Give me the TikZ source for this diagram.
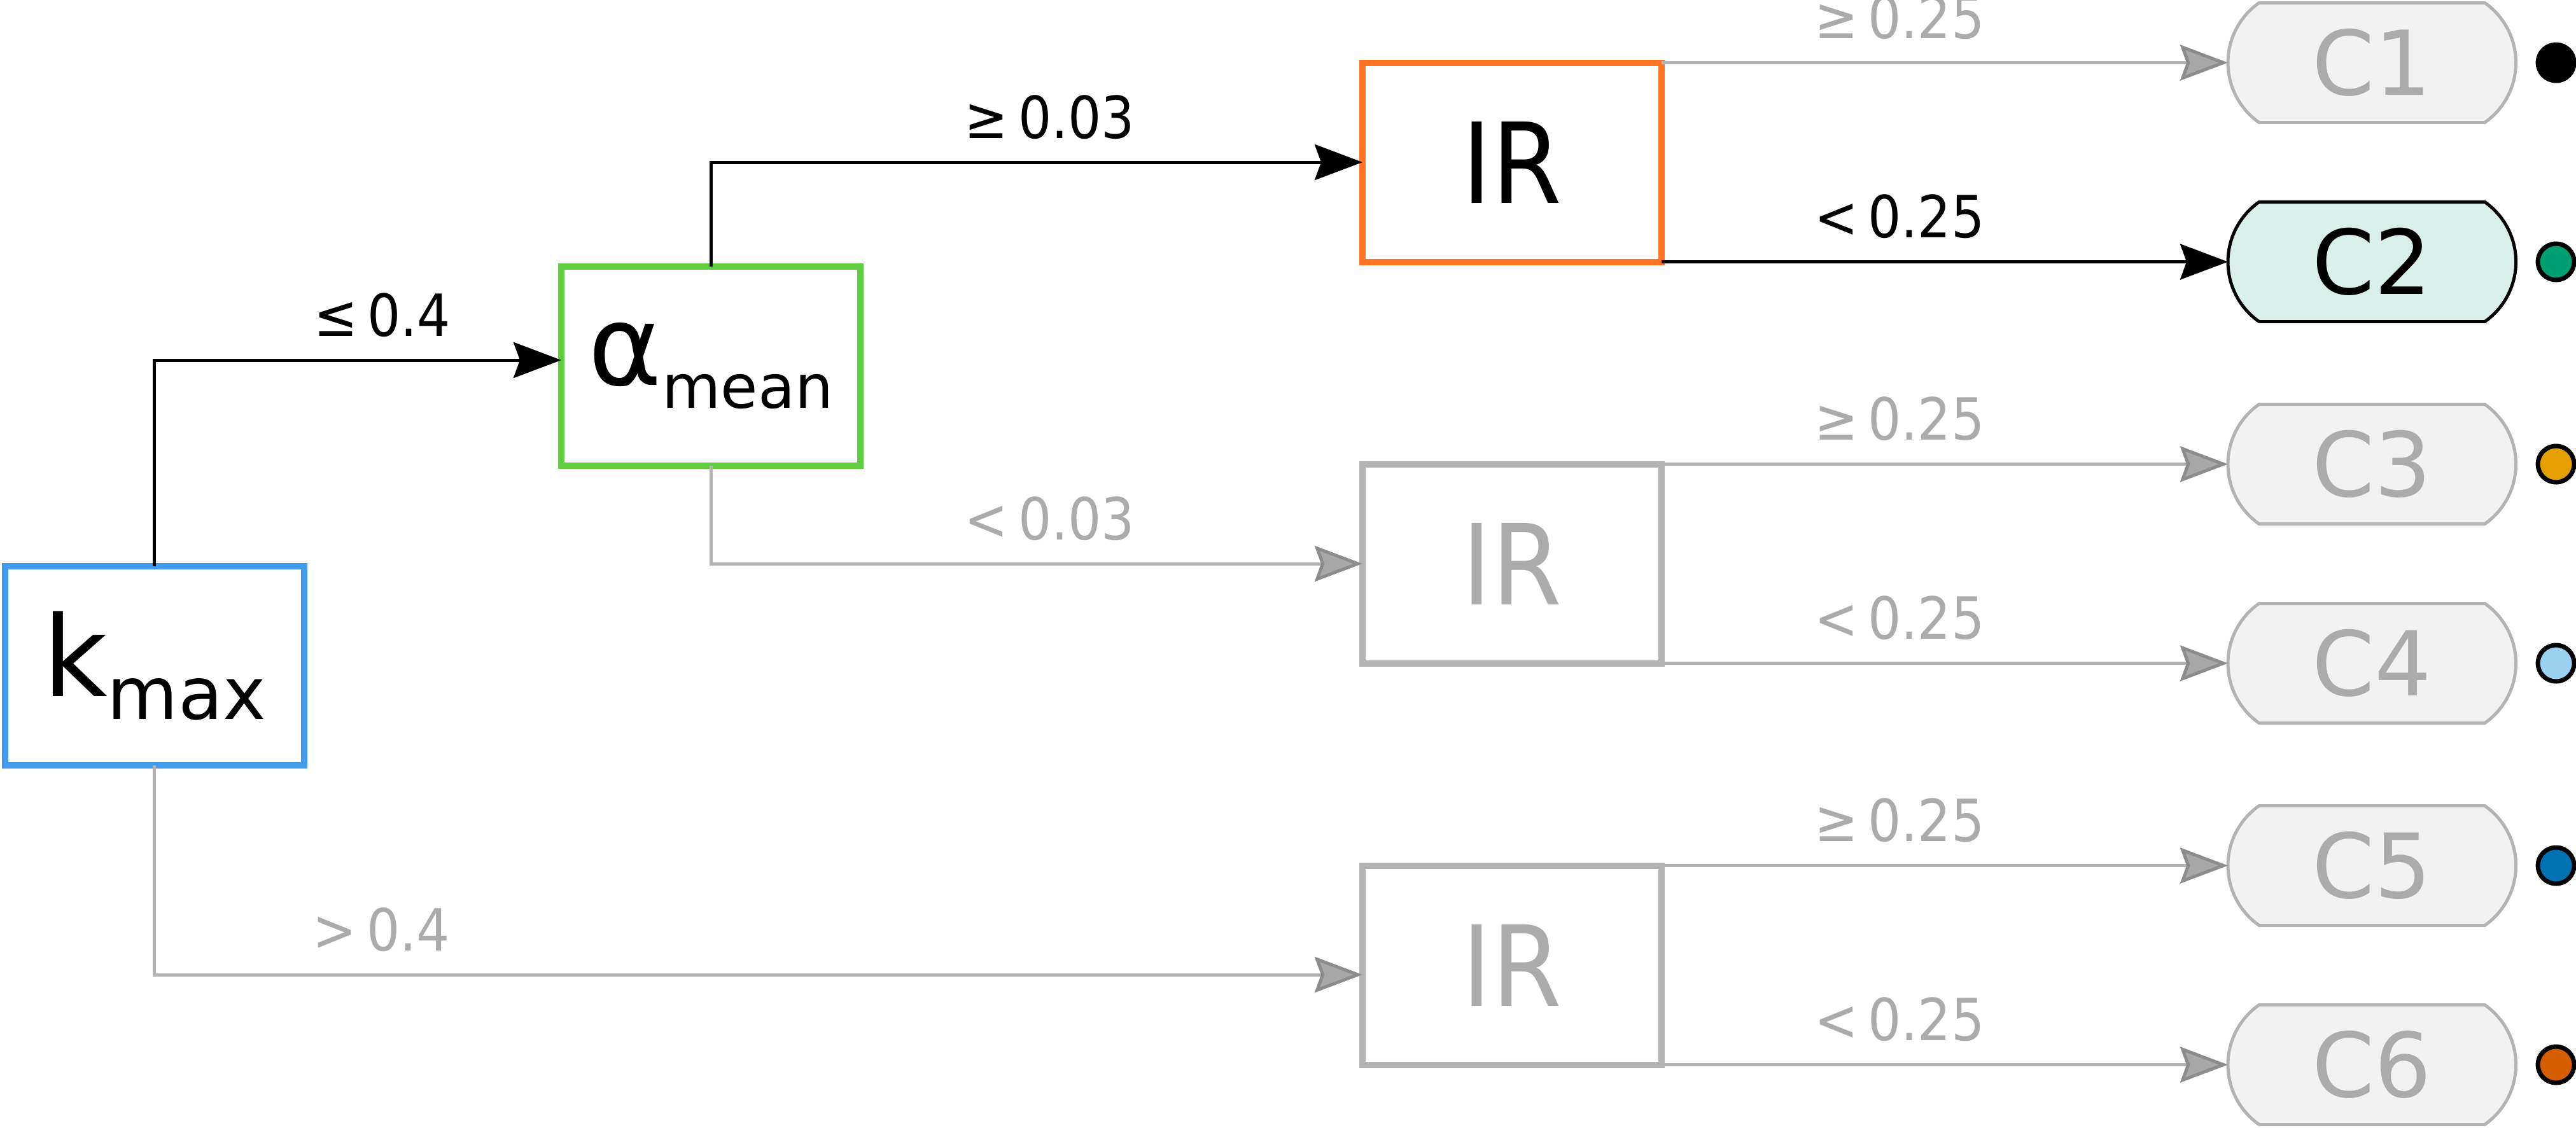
\documentclass[tikz,border=0pt]{standalone}
\usepackage{fontspec}
\setmainfont{DejaVu Sans}
\newfontfamily\narrow{DejaVu Sans Condensed}
\usepackage{xcolor}
\usepackage{tikz}
\usetikzlibrary{positioning,arrows.meta,shapes.misc}
\definecolor{kblue}{HTML}{439CEB}
\definecolor{agreen}{HTML}{60CC40}
\definecolor{irorange}{HTML}{FF7324}
\definecolor{offgray}{HTML}{B3B3B3}
\definecolor{offtext}{HTML}{ABABAB}
\definecolor{tipgray}{HTML}{A8A8A8}
\definecolor{tipedge}{HTML}{8C8C8C}
\definecolor{offfill}{HTML}{F2F2F2}
\definecolor{cfill}{HTML}{D9F0EA}
\definecolor{dgreen}{HTML}{009E73}
\definecolor{dorange}{HTML}{E69F00}
\definecolor{dsky}{HTML}{9DD1F2}
\definecolor{dblue}{HTML}{0072B2}
\definecolor{dred}{HTML}{D55E00}
\newcommand{\lowsub}[2]{\raisebox{-0.2em}{\fontsize{#1}{#1}\selectfont #2}}

\begin{document}
\begin{tikzpicture}[
  box/.style={draw, line width=0.1cm, minimum width=4.7cm, minimum height=3.13cm, outer sep=0pt, font=\fontsize{50}{60}\selectfont},
  offbox/.style={box, draw=offgray, text=offtext},
  cls/.style={rounded rectangle, rounded rectangle arc length=110, draw=offgray, fill=offfill, text=offtext, line width=0.05cm, minimum width=4.76cm, minimum height=1.88cm, outer sep=0pt, font=\fontsize{40}{48}\selectfont},
  dot/.style={circle, draw=black, line width=0.07cm, minimum size=0.57cm, inner sep=0pt},
  on/.style={draw=black, line width=0.05cm, -{Stealth[length=0.75cm, width=0.56cm, inset=0.1cm]}},
  off/.style={draw=offgray, line width=0.05cm, -{Stealth[length=0.75cm, width=0.56cm, inset=0.1cm, fill=tipgray, color=tipedge]}},
  lbl/.style={inner sep=0pt, above=0.34cm, font=\narrow\fontsize{26}{30}\selectfont},
  offlbl/.style={lbl, text=offtext}
]
\useasboundingbox (0,0) rectangle (40.48,-17.72);

% split nodes
\node[box, draw=kblue] (kmax) at (2.425,-10.465) {k\lowsub{32.5}{max}};
\node[box, draw=agreen] (amean) at (11.17,-5.75) {α\lowsub{27}{mean}};
\node[box, draw=irorange, font=\narrow\fontsize{50}{60}\selectfont] (ir1) at (23.76,-2.55) {IR};
\node[offbox, font=\narrow\fontsize{50}{60}\selectfont] (ir2) at (23.76,-8.86) {IR};
\node[offbox, font=\narrow\fontsize{50}{60}\selectfont] (ir3) at (23.76,-15.17) {IR};

% classes
\node[cls, anchor=west] (c1) at ([xshift=8.9cm]ir1.north east) {C1};
\node[cls, anchor=west, draw=black, fill=cfill, text=black] (c2) at ([xshift=8.9cm]ir1.south east) {C2};
\node[cls, anchor=west] (c3) at ([xshift=8.9cm]ir2.north east) {C3};
\node[cls, anchor=west] (c4) at ([xshift=8.9cm]ir2.south east) {C4};
\node[cls, anchor=west] (c5) at ([xshift=8.9cm]ir3.north east) {C5};
\node[cls, anchor=west] (c6) at ([xshift=8.9cm]ir3.south east) {C6};

\foreach \i/\col in {1/black,2/dgreen,3/dorange,4/dsky,5/dblue,6/dred}
  \node[dot, fill=\col] (d\i) at ([xshift=0.63cm]c\i.east) {};

% branches
\draw[on] (kmax.north) |- ([yshift=0.09cm]amean.west) node[lbl, pos=0.78] (l1) {≤\,0.4};
\draw[off] (kmax.south) |- ([yshift=-0.15cm]ir3.west) node[offlbl, pos=0.594] (l2) {>\,0.4};
\draw[on] (amean.north) |- (ir1.west) node[lbl, pos=0.76] (l3) {≥\,0.03};
\draw[off] (amean.south) |- (ir2.west) node[offlbl, pos=0.76] (l4) {<\,0.03};

\draw[off] (ir1.north east) -- (c1.west) node[offlbl, pos=0.42] (l5) {≥\,0.25};
\draw[on] (ir1.south east) -- (c2.west) node[lbl, pos=0.42] (l6) {<\,0.25};
\draw[off] (ir2.north east) -- (c3.west) node[offlbl, pos=0.42] (l7) {≥\,0.25};
\draw[off] (ir2.south east) -- (c4.west) node[offlbl, pos=0.42] (l8) {<\,0.25};
\draw[off] (ir3.north east) -- (c5.west) node[offlbl, pos=0.42] (l9) {≥\,0.25};
\draw[off] (ir3.south east) -- (c6.west) node[offlbl, pos=0.42] (l10) {<\,0.25};
\end{tikzpicture}
\end{document}
